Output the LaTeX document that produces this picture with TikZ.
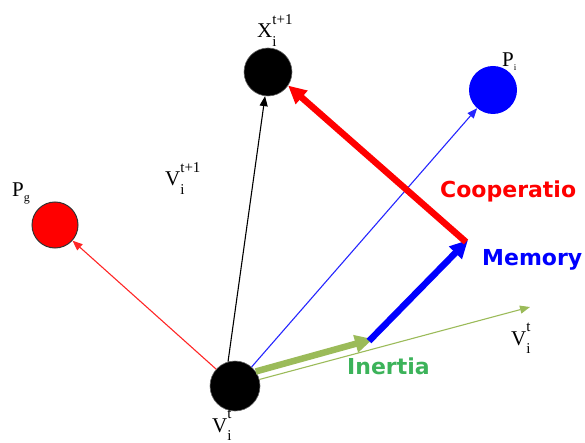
\documentclass[tikz,border=0pt]{standalone}
\usepackage{fontspec}
\setmainfont{Liberation Serif}
\newfontfamily\boldsans{DejaVu Sans}
\usetikzlibrary{arrows.meta}
\definecolor{ogreen}{HTML}{9BBB59}
\definecolor{tgreen}{HTML}{3CB35A}
\newcommand\symb[3]{#1\rlap{\raisebox{0.62em}{\fontsize{15}{15}\selectfont #3}}\raisebox{-0.4em}{\fontsize{15}{15}\selectfont #2}}
\begin{document}
\begin{tikzpicture}[x=1pt,y=-1pt,
  dot/.style={circle,inner sep=0pt,minimum size=48pt},
  lab/.style={inner sep=0pt,anchor=base west,font=\fontsize{21}{21}\selectfont},
  blab/.style={inner sep=0pt,anchor=base west,font=\boldsans\bfseries\fontsize{22}{22}\selectfont},
  thinarr/.style={line width=1.1pt,-{Triangle[length=10pt,width=8pt]}},
  thickarr/.style={line width=6.5pt,-{Triangle[length=18pt,width=17pt]}}]
\useasboundingbox (0,0) rectangle (585,443);
\node[dot,fill=black,draw=black!60,line width=0.6pt] (X) at (268,72) {};
\node[dot,fill=blue] (Pi) at (493,90) {};
\node[dot,fill=red,draw=black!80,line width=1pt,minimum size=46pt] (Pg) at (55,225) {};
\node[dot,fill=black,draw=black!60,line width=0.6pt,minimum size=50pt] (V) at (235,386) {};
\coordinate (gend) at (530,307);
\coordinate (m1) at (373,339);
\coordinate (m1b) at (369,341);
\coordinate (m2) at (468,240);
\coordinate (m2b) at (466,242);
% thin arrows
\draw[thinarr,black] (V.106) -- (X.263);
\draw[thinarr,red!85] (V) -- (Pg);
\draw[thinarr,blue!85] (V) -- (Pi);
\draw[thinarr,ogreen] (V) -- (gend);
% thick arrows
\draw[thickarr,ogreen] (V.35) -- (m1);
\draw[thickarr,blue] (m1b) -- (m2);
\draw[thickarr,red] (m2b) -- (X.326);
% labels
\node[lab] (lx) at (257,38) {\symb{X}{i}{t+1}};
\node[lab] (lpi) at (502,67) {P\raisebox{-0.15em}{\fontsize{9}{9}\selectfont i}};
\node[lab] (lpg) at (12,197) {P\raisebox{-0.2em}{\fontsize{12}{12}\selectfont g}};
\node[lab] (lv1) at (165,186) {\symb{V}{i}{t+1}};
\node[lab] (lv0) at (212,432) {\symb{V}{i}{t}};
\node[lab] (lv2) at (511,345) {\symb{V}{i}{t}};
\node[blab,text=red] (coop) at (440,198) {Cooperatio};
\node[blab,text=blue] (mem) at (482,265) {Memory};
\node[blab,text=tgreen] (iner) at (347,374) {Inertia};
\end{tikzpicture}
\end{document}
